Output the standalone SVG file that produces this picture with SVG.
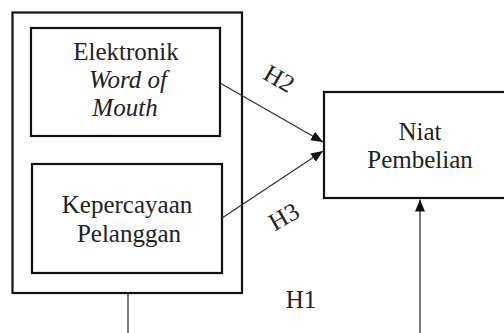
<svg xmlns="http://www.w3.org/2000/svg" width="504" height="333" viewBox="0 0 504 333" font-family="'Liberation Serif', 'DejaVu Serif', serif">
<style>
.box{fill:none;stroke:#111;stroke-width:2.2}
.con{fill:none;stroke:#333;stroke-width:1.3}
text{font-family:'Liberation Serif','DejaVu Serif',serif;font-size:25px;fill:#222;text-anchor:middle}
.it{font-style:italic}
</style>
<defs>
<marker id="ah" markerUnits="userSpaceOnUse" markerWidth="12" markerHeight="10" refX="12" refY="5" orient="auto">
<path d="M0,0 L12,5 L0,10 Z" fill="#111"/>
</marker>
</defs>
<rect width="504" height="333" fill="#fff"/>
<g id="group-outer">
<rect class="box" x="12.5" y="12.5" width="229.5" height="280.5"/>
</g>
<g id="node-ewom">
<rect class="box" x="31" y="28" width="189" height="108"/>
<text x="126" y="60">Elektronik</text>
<text class="it" x="128" y="88">Word of</text>
<text class="it" x="125" y="116">Mouth</text>
</g>
<g id="node-kepercayaan">
<rect class="box" x="32" y="164" width="190" height="109"/>
<text x="127" y="213">Kepercayaan</text>
<text x="129" y="242">Pelanggan</text>
</g>
<g id="node-niat">
<rect class="box" x="324" y="92" width="200" height="106"/>
<text x="420" y="140">Niat</text>
<text x="420" y="168">Pembelian</text>
</g>
<g id="connectors">
<line class="con" x1="220" y1="83" x2="323" y2="142" marker-end="url(#ah)"/>
<line class="con" x1="222" y1="218" x2="323" y2="151" marker-end="url(#ah)"/>
<line class="con" x1="420" y1="333" x2="420" y2="199.5" marker-end="url(#ah)"/>
<line class="con" x1="128" y1="293" x2="128" y2="333"/>
</g>
<g id="labels">
<text transform="translate(279,79) rotate(30)" y="8">H2</text>
<text transform="translate(284,217) rotate(-30)" y="8">H3</text>
<text x="301" y="308">H1</text>
</g>
</svg>
